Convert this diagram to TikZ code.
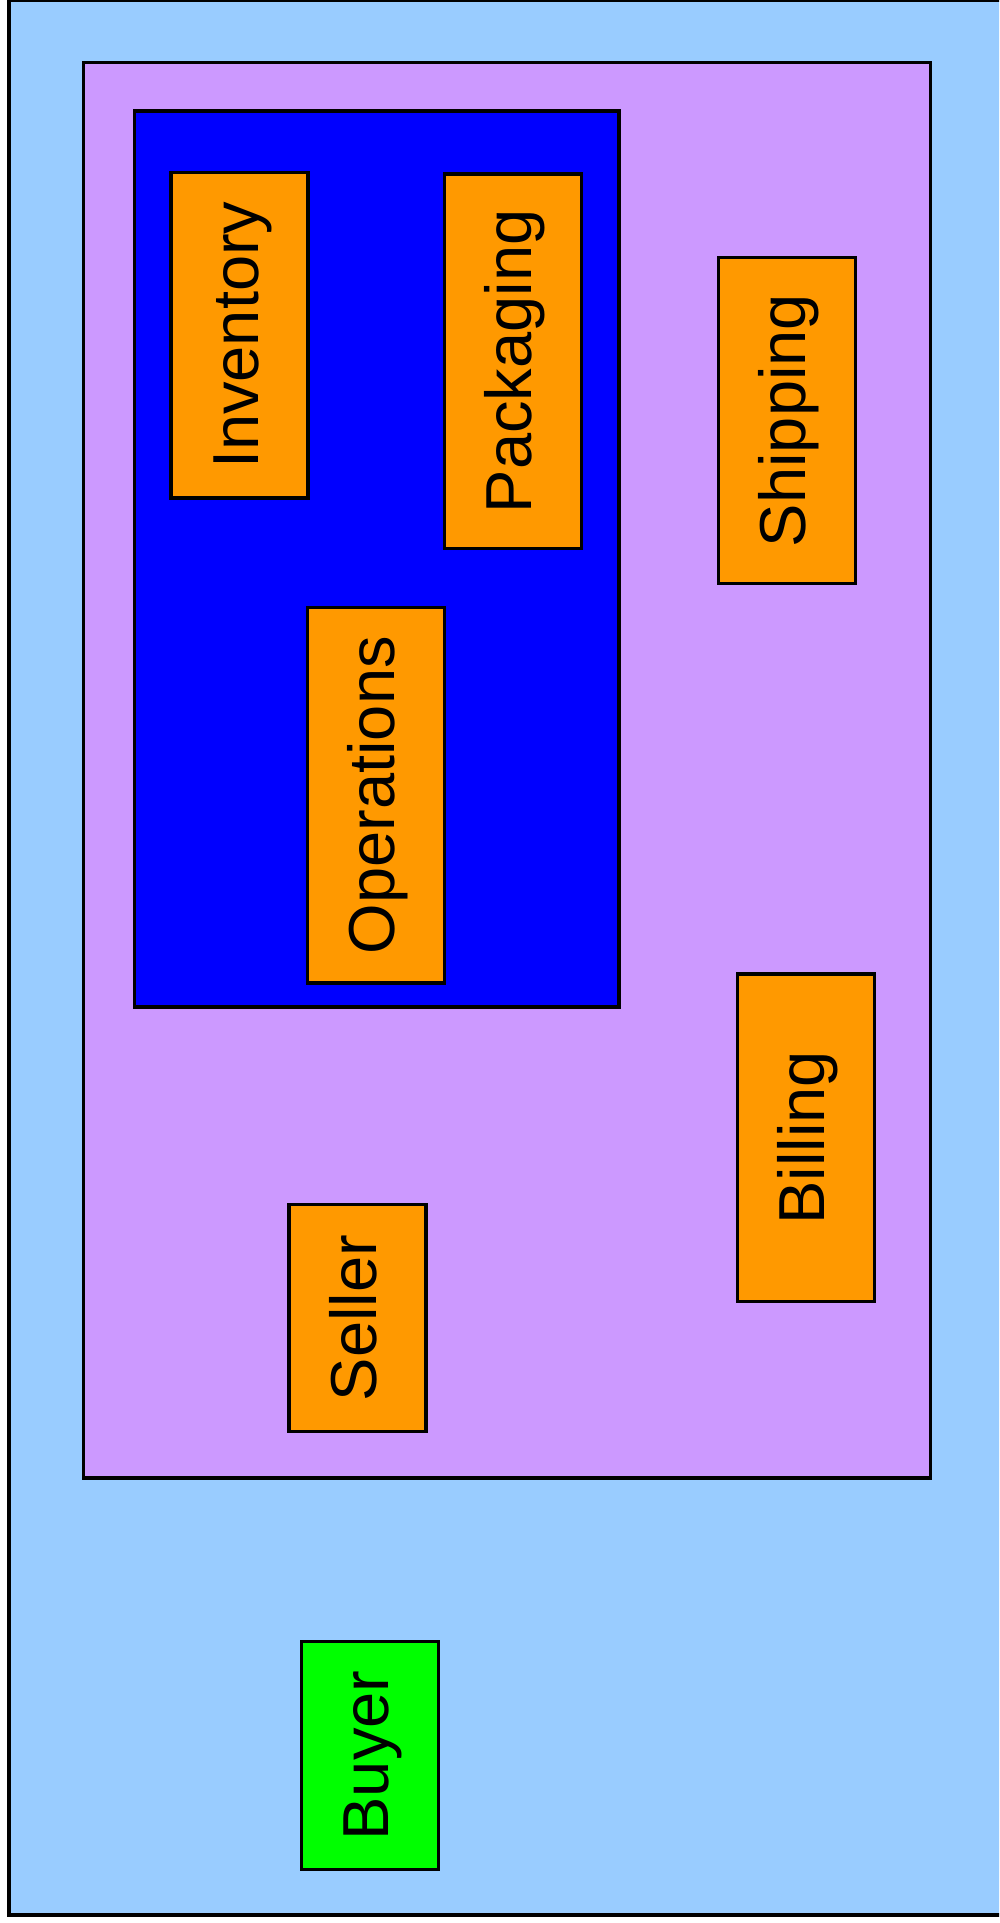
\documentclass[tikz,border=0pt]{standalone}
\usepackage{fontspec}
\setmainfont{Liberation Sans}
\definecolor{outerblue}{HTML}{99CCFF}
\definecolor{purplebox}{HTML}{CC99FF}
\definecolor{bluebox}{HTML}{0000FF}
\definecolor{orangebox}{HTML}{FF9900}
\definecolor{greenbox}{HTML}{00FF00}
\tikzset{
  region/.style={draw=black, line width=3.4pt},
  compbox/.style={draw=black, line width=3.4pt, fill=orangebox, rotate=90,
    inner sep=0pt, outer sep=0pt, text height=47pt, text depth=10pt,
    minimum height=137pt, font=\fontsize{65}{78}\selectfont},
  actorbox/.style={compbox, fill=greenbox}
}
\begin{document}
\begin{tikzpicture}[x=1pt,y=-1pt]
\useasboundingbox (0,0) rectangle (999,1923);
\begin{scope}
\clip (0,0) rectangle (999,1923);
\draw[region, fill=outerblue] (9,0) rectangle (1010,1915);
\end{scope}
\draw[region, fill=purplebox] (83.5,62.5) rectangle (930.5,1478);
\draw[region, fill=bluebox] (134.5,111) rectangle (619,1007);
\node[compbox, minimum width=325.5pt] (inventory) at (239.5,335.25) {Inventory};
\node[compbox, minimum width=374.5pt] (packaging) at (513,361.25) {Packaging};
\node[compbox, minimum width=326pt] (shipping) at (787,420.5) {Shipping};
\node[compbox, minimum width=375.5pt] (operations) at (376.25,795.25) {Operations};
\node[compbox, minimum width=227pt] (seller) at (357.5,1318) {Seller};
\node[compbox, minimum width=327.5pt] (billing) at (806,1137.75) {Billing};
\node[actorbox, minimum width=228pt] (buyer) at (370.25,1755.5) {Buyer};
\end{tikzpicture}
\end{document}
